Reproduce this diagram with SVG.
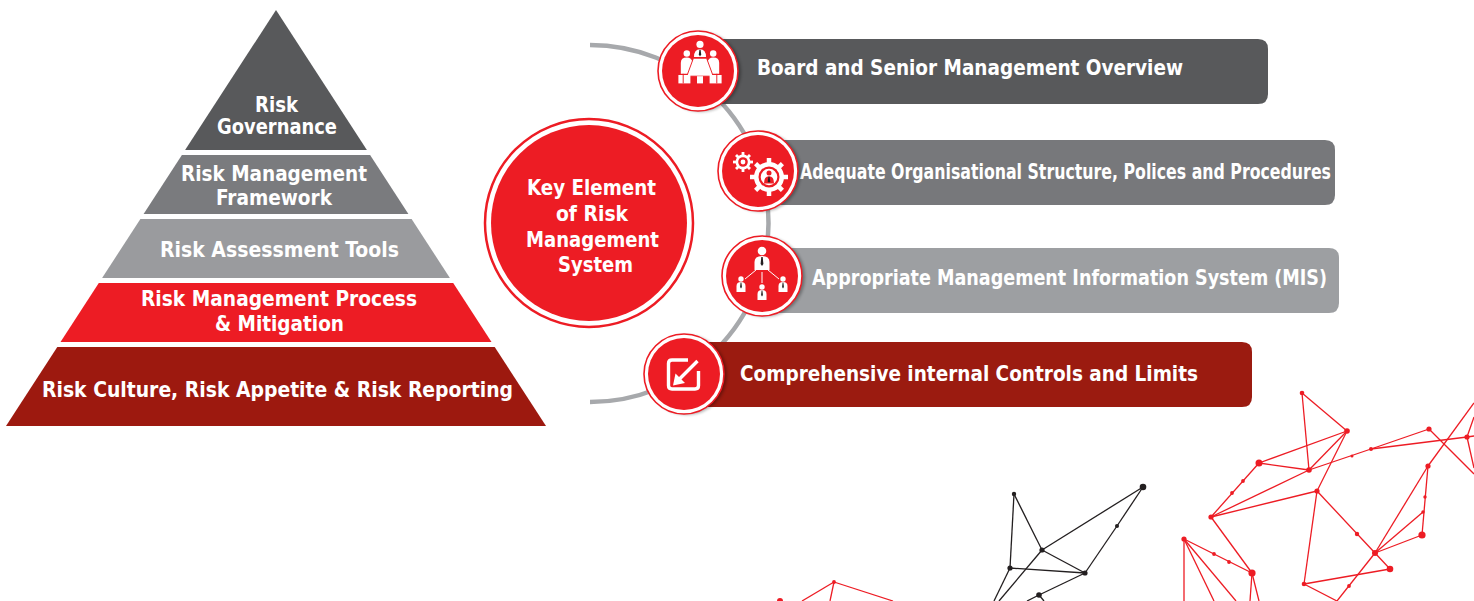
<svg xmlns="http://www.w3.org/2000/svg" width="1474" height="601" viewBox="0 0 1474 601">
  <defs>
    <style>
      .lbl { font-family: "DejaVu Sans Condensed", "Liberation Sans", Arial, sans-serif; font-weight: bold; fill: #ffffff; }
      .pyr { font-size: 21px; text-anchor: middle; }
      .bar { font-size: 21px; }
      .key { font-size: 21px; text-anchor: middle; }
      .ring { fill: #ffffff; stroke: #ed1c24; stroke-width: 1.6; }
      .disc { fill: #ed1c24; }
      .ico { fill: #ffffff; }
      .icl { fill: none; stroke: #ffffff; }
      .tie { fill: #231f20; }
      .netr line { stroke: #ed1c24; stroke-width: 1.3; }
      .netr circle { fill: #ed1c24; }
      .netk line { stroke: #231f20; stroke-width: 1.3; }
      .netk circle { fill: #231f20; }
    </style>
    <filter id="shade" x="-20%" y="-20%" width="140%" height="140%">
      <feGaussianBlur stdDeviation="1.5"/>
    </filter>
  </defs>

  <rect width="1474" height="601" fill="#ffffff"/>

  <!-- pyramid of risk layers -->
  <g id="pyramid">
    <g id="layer-governance">
      <polygon points="276,10 366.9,150 185.1,150" fill="#58595b"/>
      <text class="lbl pyr" x="276.5" y="112" textLength="43" lengthAdjust="spacingAndGlyphs">Risk</text>
      <text class="lbl pyr" x="277" y="134" textLength="120" lengthAdjust="spacingAndGlyphs">Governance</text>
    </g>
    <g id="layer-framework">
      <polygon points="181.9,155 370.1,155 408.4,214 143.6,214" fill="#7a7b7e"/>
      <text class="lbl pyr" x="274" y="181" textLength="186" lengthAdjust="spacingAndGlyphs">Risk Management</text>
      <text class="lbl pyr" x="274" y="205" textLength="116" lengthAdjust="spacingAndGlyphs">Framework</text>
    </g>
    <g id="layer-tools">
      <polygon points="140.4,219 411.6,219 449.9,278 102.1,278" fill="#9a9b9e"/>
      <text class="lbl pyr" x="279.5" y="257" textLength="239" lengthAdjust="spacingAndGlyphs">Risk Assessment Tools</text>
    </g>
    <g id="layer-process">
      <polygon points="98.8,283 453.2,283 491.5,342 60.5,342" fill="#ed1c24"/>
      <text class="lbl pyr" x="279" y="306" textLength="276" lengthAdjust="spacingAndGlyphs">Risk Management Process</text>
      <text class="lbl pyr" x="279.5" y="331" textLength="129" lengthAdjust="spacingAndGlyphs">&amp; Mitigation</text>
    </g>
    <g id="layer-culture">
      <polygon points="57.3,347 494.7,347 546,426 6,426" fill="#9d190f"/>
      <text class="lbl pyr" x="277.5" y="397" textLength="471" lengthAdjust="spacingAndGlyphs">Risk Culture, Risk Appetite &amp; Risk Reporting</text>
    </g>
  </g>

  <!-- connectors: the arc linking the key element to its four parts -->
  <g id="connectors">
    <path d="M 590 45 A 178.5 178.5 0 0 1 590 402" fill="none" stroke="#a7a9ac" stroke-width="4.5"/>
  </g>

  <!-- central hub -->
  <g id="key-element">
    <circle cx="589" cy="223" r="104" fill="#ffffff" stroke="#ed1c24" stroke-width="2.5"/>
    <circle cx="589" cy="223" r="98" fill="#ed1c24"/>
    <text class="lbl key" x="591.5" y="195" textLength="129" lengthAdjust="spacingAndGlyphs">Key Element</text>
    <text class="lbl key" x="592" y="221" textLength="72" lengthAdjust="spacingAndGlyphs">of Risk</text>
    <text class="lbl key" x="592.5" y="247" textLength="133" lengthAdjust="spacingAndGlyphs">Management</text>
    <text class="lbl key" x="595.5" y="272" textLength="75" lengthAdjust="spacingAndGlyphs">System</text>
  </g>

  <!-- element 1: board oversight -->
  <g id="board">
    <path d="M 698 39 H 1258 Q 1268 39 1268 49 V 94 Q 1268 104 1258 104 H 698 Z" fill="#58595b"/>
    <text class="lbl bar" x="757" y="75" textLength="426" lengthAdjust="spacingAndGlyphs">Board and Senior Management Overview</text>
    <circle cx="701" cy="72" r="40" fill="#000000" opacity="0.3" filter="url(#shade)"/>
    <circle class="ring" cx="698" cy="71" r="40"/>
    <circle class="disc" cx="698" cy="71" r="36"/>
    <g id="board-icon" transform="translate(700 63) scale(1.2) translate(-700 -63)">
      <circle class="ico" cx="700" cy="47.5" r="3"/>
      <path class="ico" d="M 695 58 Q 695 51.5 700 51.5 Q 705 51.5 705 58 Z"/>
      <circle class="ico" cx="689" cy="55" r="2.7"/>
      <circle class="ico" cx="711" cy="55" r="2.7"/>
      <path class="ico" d="M 684 72 V 63 Q 684 58.5 689 58.5 Q 693 58.5 694 63 L 691 72 Z"/>
      <path class="ico" d="M 716 72 V 63 Q 716 58.5 711 58.5 Q 707 58.5 706 63 L 709 72 Z"/>
      <polygon class="ico" points="694.5,59 705.5,59 711,74 689,74" stroke="#ed1c24" stroke-width="0.8"/>
      <rect class="ico" x="697.5" y="74" width="5" height="6"/>
      <rect class="ico" x="682" y="73" width="10" height="7"/>
      <rect class="ico" x="708" y="73" width="10" height="7"/>
      <line x1="686" y1="72" x2="686" y2="80" stroke="#ed1c24" stroke-width="0.8"/>
      <line x1="714" y1="72" x2="714" y2="80" stroke="#ed1c24" stroke-width="0.8"/>
      <path class="tie" d="M 699.5 52 L 700.5 52 L 701 56 L 700 57.5 L 699 56 Z"/>
    </g>
  </g>

  <!-- element 2: organisational structure -->
  <g id="structure">
    <path d="M 758 140 H 1325 Q 1335 140 1335 150 V 195 Q 1335 205 1325 205 H 758 Z" fill="#77787b"/>
    <text class="lbl bar" x="800" y="179" textLength="531" lengthAdjust="spacingAndGlyphs">Adequate Organisational Structure, Polices and Procedures</text>
    <circle cx="761" cy="172" r="40" fill="#000000" opacity="0.3" filter="url(#shade)"/>
    <circle class="ring" cx="758" cy="171" r="40"/>
    <circle class="disc" cx="758" cy="171" r="36"/>
    <g id="gears-icon">
      <!-- small gear -->
      <g stroke="#ffffff" stroke-width="2.8" stroke-linecap="butt">
        <line x1="743" y1="152" x2="743" y2="172"/>
        <line x1="733" y1="162" x2="753" y2="162"/>
        <line x1="736" y1="155" x2="750" y2="169"/>
        <line x1="750" y1="155" x2="736" y2="169"/>
      </g>
      <circle class="ico" cx="743" cy="162" r="7.5"/>
      <circle class="disc" cx="743" cy="162" r="4.8"/>
      <circle class="ico" cx="743" cy="162" r="2.4"/>
      <!-- large gear -->
      <g stroke="#ffffff" stroke-width="4.5" stroke-linecap="butt">
        <line x1="769" y1="158" x2="769" y2="196"/>
        <line x1="750" y1="177" x2="788" y2="177"/>
        <line x1="755.6" y1="163.6" x2="782.4" y2="190.4"/>
        <line x1="782.4" y1="163.6" x2="755.6" y2="190.4"/>
      </g>
      <circle class="ico" cx="769" cy="177" r="15"/>
      <circle class="disc" cx="769" cy="177" r="10.5"/>
      <circle class="ico" cx="769" cy="177" r="8.3"/>
      <circle class="disc" cx="769" cy="173" r="2.5"/>
      <path class="disc" d="M 764 183.5 Q 764 176.3 769 176.3 Q 774 176.3 774 183.5 Z"/>
      <path d="M 768.4 176.8 H 769.6 L 770.2 181.3 L 769 182.8 L 767.8 181.3 Z" fill="#231f20"/>
    </g>
  </g>

  <!-- element 3: management information system -->
  <g id="mis">
    <path d="M 762 248 H 1329 Q 1339 248 1339 258 V 303 Q 1339 313 1329 313 H 762 Z" fill="#9d9fa2"/>
    <text class="lbl bar" x="812" y="285" textLength="515" lengthAdjust="spacingAndGlyphs">Appropriate Management Information System (MIS)</text>
    <circle cx="765" cy="277" r="40" fill="#000000" opacity="0.3" filter="url(#shade)"/>
    <circle class="ring" cx="762" cy="276" r="40"/>
    <circle class="disc" cx="762" cy="276" r="36"/>
    <g id="orgchart-icon">
      <g stroke="#ffffff" stroke-width="1">
        <line x1="756" y1="270" x2="745" y2="279"/>
        <line x1="762" y1="272" x2="762" y2="283"/>
        <line x1="768" y1="270" x2="779" y2="279"/>
      </g>
      <circle class="ico" cx="762" cy="251" r="4.3"/>
      <path class="ico" d="M 754.5 270 V 262 Q 754.5 256 762 256 Q 769.5 256 769.5 262 V 270 Z"/>
      <path class="tie" d="M 761.3 257 H 762.7 L 763.4 264 L 762 266 L 760.6 264 Z"/>
      <g id="org-staff">
        <circle class="ico" cx="741" cy="279" r="2.7"/>
        <path class="ico" d="M 736.5 292 V 286 Q 736.5 282 741 282 Q 745.5 282 745.5 286 V 292 Z"/>
        <path class="tie" d="M 740.6 282.5 H 741.4 L 741.9 287 L 741 288.5 L 740.1 287 Z"/>
        <circle class="ico" cx="762" cy="287" r="2.7"/>
        <path class="ico" d="M 757.5 300 V 294 Q 757.5 290 762 290 Q 766.5 290 766.5 294 V 300 Z"/>
        <path class="tie" d="M 761.6 290.5 H 762.4 L 762.9 295 L 762 296.5 L 761.1 295 Z"/>
        <circle class="ico" cx="783" cy="279" r="2.7"/>
        <path class="ico" d="M 778.5 292 V 286 Q 778.5 282 783 282 Q 787.5 282 787.5 286 V 292 Z"/>
        <path class="tie" d="M 782.6 282.5 H 783.4 L 783.9 287 L 783 288.5 L 782.1 287 Z"/>
      </g>
    </g>
  </g>

  <!-- element 4: internal controls -->
  <g id="controls">
    <path d="M 684 342 H 1242 Q 1252 342 1252 352 V 397 Q 1252 407 1242 407 H 684 Z" fill="#9b1b10"/>
    <text class="lbl bar" x="740" y="381" textLength="458" lengthAdjust="spacingAndGlyphs">Comprehensive internal Controls and Limits</text>
    <circle cx="687" cy="375" r="40" fill="#000000" opacity="0.3" filter="url(#shade)"/>
    <circle class="ring" cx="684" cy="374" r="40"/>
    <circle class="disc" cx="684" cy="374" r="36"/>
    <g id="check-icon">
      <path class="icl" stroke-width="3.4" stroke-linejoin="round" d="M 688 360 H 672 Q 668.5 360 668.5 363.5 V 385.5 Q 668.5 389 672 389 H 695 Q 698.5 389 698.5 385.5 V 371"/>
      <line x1="697.5" y1="361" x2="678" y2="380.5" stroke="#ffffff" stroke-width="3.4"/>
      <polygon class="ico" points="673,385.5 675.5,373.5 685,383"/>
    </g>
  </g>

  <!-- decorative node networks -->
  <g id="network-red" class="netr">
    <line x1="1302" y1="393" x2="1347" y2="431"/>
    <line x1="1302" y1="393" x2="1309" y2="470"/>
    <line x1="1347" y1="431" x2="1259" y2="463"/>
    <line x1="1347" y1="431" x2="1309" y2="470"/>
    <line x1="1347" y1="431" x2="1317" y2="491"/>
    <line x1="1259" y1="463" x2="1309" y2="470"/>
    <line x1="1259" y1="463" x2="1211" y2="517"/>
    <line x1="1309" y1="470" x2="1211" y2="517"/>
    <line x1="1317" y1="491" x2="1211" y2="517"/>
    <line x1="1309" y1="470" x2="1371" y2="449"/>
    <line x1="1371" y1="449" x2="1429" y2="429"/>
    <line x1="1371" y1="449" x2="1467" y2="437"/>
    <line x1="1467" y1="437" x2="1474" y2="436"/>
    <line x1="1429" y1="429" x2="1474" y2="474"/>
    <line x1="1428" y1="466" x2="1474" y2="403"/>
    <line x1="1467" y1="437" x2="1474" y2="468"/>
    <line x1="1474" y1="417" x2="1467" y2="437"/>
    <line x1="1428" y1="466" x2="1422" y2="535"/>
    <line x1="1428" y1="466" x2="1375" y2="553"/>
    <line x1="1423" y1="512" x2="1375" y2="553"/>
    <line x1="1422" y1="535" x2="1375" y2="553"/>
    <line x1="1317" y1="491" x2="1375" y2="553"/>
    <line x1="1375" y1="553" x2="1390" y2="569"/>
    <line x1="1317" y1="491" x2="1304" y2="584"/>
    <line x1="1304" y1="584" x2="1390" y2="569"/>
    <line x1="1304" y1="584" x2="1337" y2="601"/>
    <line x1="1375" y1="553" x2="1337" y2="601"/>
    <line x1="1211" y1="517" x2="1252" y2="573"/>
    <line x1="1184" y1="539" x2="1252" y2="573"/>
    <line x1="1184" y1="539" x2="1184" y2="601"/>
    <line x1="1184" y1="539" x2="1214" y2="601"/>
    <line x1="1184" y1="539" x2="1236" y2="601"/>
    <line x1="1252" y1="573" x2="1250" y2="601"/>
    <line x1="1252" y1="573" x2="1259" y2="601"/>
    <circle cx="1302" cy="393" r="2.3"/>
    <circle cx="1347" cy="431" r="2.8"/>
    <circle cx="1259" cy="463" r="3.5"/>
    <circle cx="1309" cy="470" r="2.8"/>
    <circle cx="1317" cy="491" r="2.6"/>
    <circle cx="1211" cy="517" r="2.6"/>
    <circle cx="1184" cy="539" r="2.6"/>
    <circle cx="1252" cy="573" r="3.6"/>
    <circle cx="1375" cy="553" r="3"/>
    <circle cx="1390" cy="569" r="3.3"/>
    <circle cx="1304" cy="584" r="2.3"/>
    <circle cx="1428" cy="466" r="2.6"/>
    <circle cx="1422" cy="535" r="3.6"/>
    <circle cx="1429" cy="429" r="2.6"/>
    <circle cx="1467" cy="437" r="2.6"/>
    <circle cx="1243" cy="481" r="1.9"/>
    <circle cx="1232" cy="493" r="1.9"/>
    <circle cx="1352" cy="456" r="1.5"/>
    <circle cx="1371" cy="449" r="2"/>
    <circle cx="1357" cy="534" r="2.2"/>
    <circle cx="1425" cy="497" r="1.7"/>
    <circle cx="1423" cy="512" r="1.7"/>
    <circle cx="1214" cy="554" r="1.9"/>
    <circle cx="1229" cy="562" r="1.9"/>
    <circle cx="1349" cy="586" r="1.9"/>
    <!-- small cluster at the lower left -->
    <line x1="834" y1="582" x2="802" y2="601"/>
    <line x1="834" y1="582" x2="830" y2="601"/>
    <line x1="834" y1="582" x2="893" y2="601"/>
    <circle cx="834" cy="582" r="1.9"/>
    <circle cx="780" cy="601" r="3"/>
  </g>

  <g id="network-black" class="netk">
    <line x1="1014" y1="494" x2="1042" y2="550"/>
    <line x1="1014" y1="494" x2="1010" y2="568"/>
    <line x1="1042" y1="550" x2="1143" y2="487"/>
    <line x1="1143" y1="487" x2="1117" y2="526"/>
    <line x1="1117" y1="526" x2="1085" y2="573"/>
    <line x1="1042" y1="550" x2="1085" y2="573"/>
    <line x1="1010" y1="568" x2="1085" y2="573"/>
    <line x1="1042" y1="550" x2="999" y2="601"/>
    <line x1="1010" y1="568" x2="994" y2="601"/>
    <line x1="1085" y1="573" x2="1039" y2="595"/>
    <line x1="1039" y1="595" x2="1027" y2="601"/>
    <line x1="1039" y1="595" x2="1044" y2="601"/>
    <circle cx="1014" cy="494" r="2.2"/>
    <circle cx="1143" cy="487" r="3.3"/>
    <circle cx="1042" cy="550" r="2.6"/>
    <circle cx="1010" cy="568" r="2.6"/>
    <circle cx="1085" cy="573" r="2.6"/>
    <circle cx="1117" cy="526" r="2"/>
    <circle cx="1039" cy="595" r="2.8"/>
  </g>
</svg>
